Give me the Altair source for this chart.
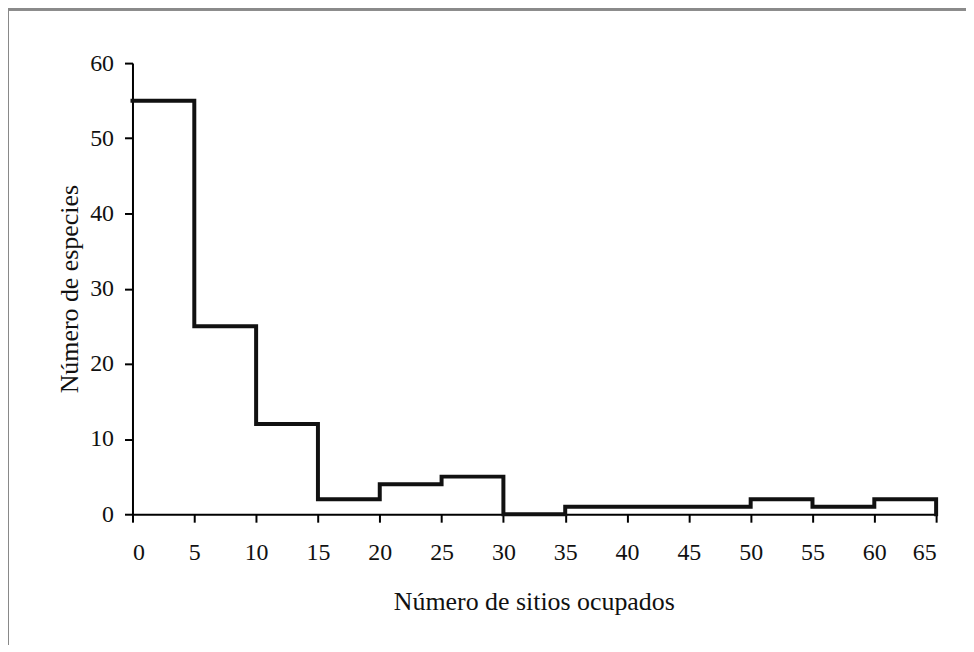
import altair as alt
import pandas as pd

# Histogram bins (number of occupied sites) and species counts
bin_starts = [0, 5, 10, 15, 20, 25, 30, 35, 40, 45, 50, 55, 60]
counts = [55, 25, 12, 2, 4, 5, 0, 1, 1, 1, 2, 1, 2]
last_edge = 65
x_ticks = [0, 5, 10, 15, 20, 25, 30, 35, 40, 45, 50, 55, 60, 65]
y_ticks = [0, 10, 20, 30, 40, 50, 60]

x_title = "Número de sitios ocupados"
y_title = "Número de especies"

# step-after line: add the closing edge dropping to zero
df = pd.DataFrame({"x": bin_starts + [last_edge], "y": counts + [0]})

W, H = 807, 453
PAD_L, PAD_T = 125, 54

line = alt.Chart(df).mark_line(
    interpolate="step-after", color="#111111", strokeWidth=4, strokeJoin="miter", strokeCap="square"
).encode(
    x=alt.X("x:Q", scale=alt.Scale(domain=[0, 65], nice=False),
            axis=alt.Axis(values=x_ticks, title=x_title, titleX=403, titleY=88,
                          titleAlign="center", titleBaseline="middle")),
    y=alt.Y("y:Q", scale=alt.Scale(domain=[0, 60], nice=False),
            axis=alt.Axis(values=y_ticks, title=y_title, titleX=-63, titleY=H / 2,
                          titleAngle=270, titleAlign="center", titleBaseline="middle")),
)

frame_top = alt.Chart(df).mark_rule(color="#8a8a8a", strokeWidth=2).encode(
    x=alt.value(-PAD_L), x2=alt.value(W + 40), y=alt.value(-PAD_T)
)
frame_left = alt.Chart(df).mark_rule(color="#8a8a8a", strokeWidth=2).encode(
    x=alt.value(-PAD_L), y=alt.value(-PAD_T), y2=alt.value(H + 140)
)

chart = alt.layer(frame_top, frame_left, line).properties(
    width=W, height=H,
    autosize=alt.AutoSizeParams(type="none"),
    padding={"left": PAD_L, "top": PAD_T, "right": 30, "bottom": 130},
).configure_view(stroke=None).configure_axis(
    grid=False,
    domainColor="#000000", domainWidth=2,
    tickColor="#000000", tickWidth=2, tickSize=8,
    labelFont="Liberation Serif", labelFontSize=24, labelColor="#111111",
    titleFont="Liberation Serif", titleFontSize=26, titleFontWeight="normal", titleColor="#111111",
).configure_axisX(labelPadding=18).configure_axisY(labelPadding=11)

chart.save("out.html", embed_options={"renderer": "svg", "actions": False})
